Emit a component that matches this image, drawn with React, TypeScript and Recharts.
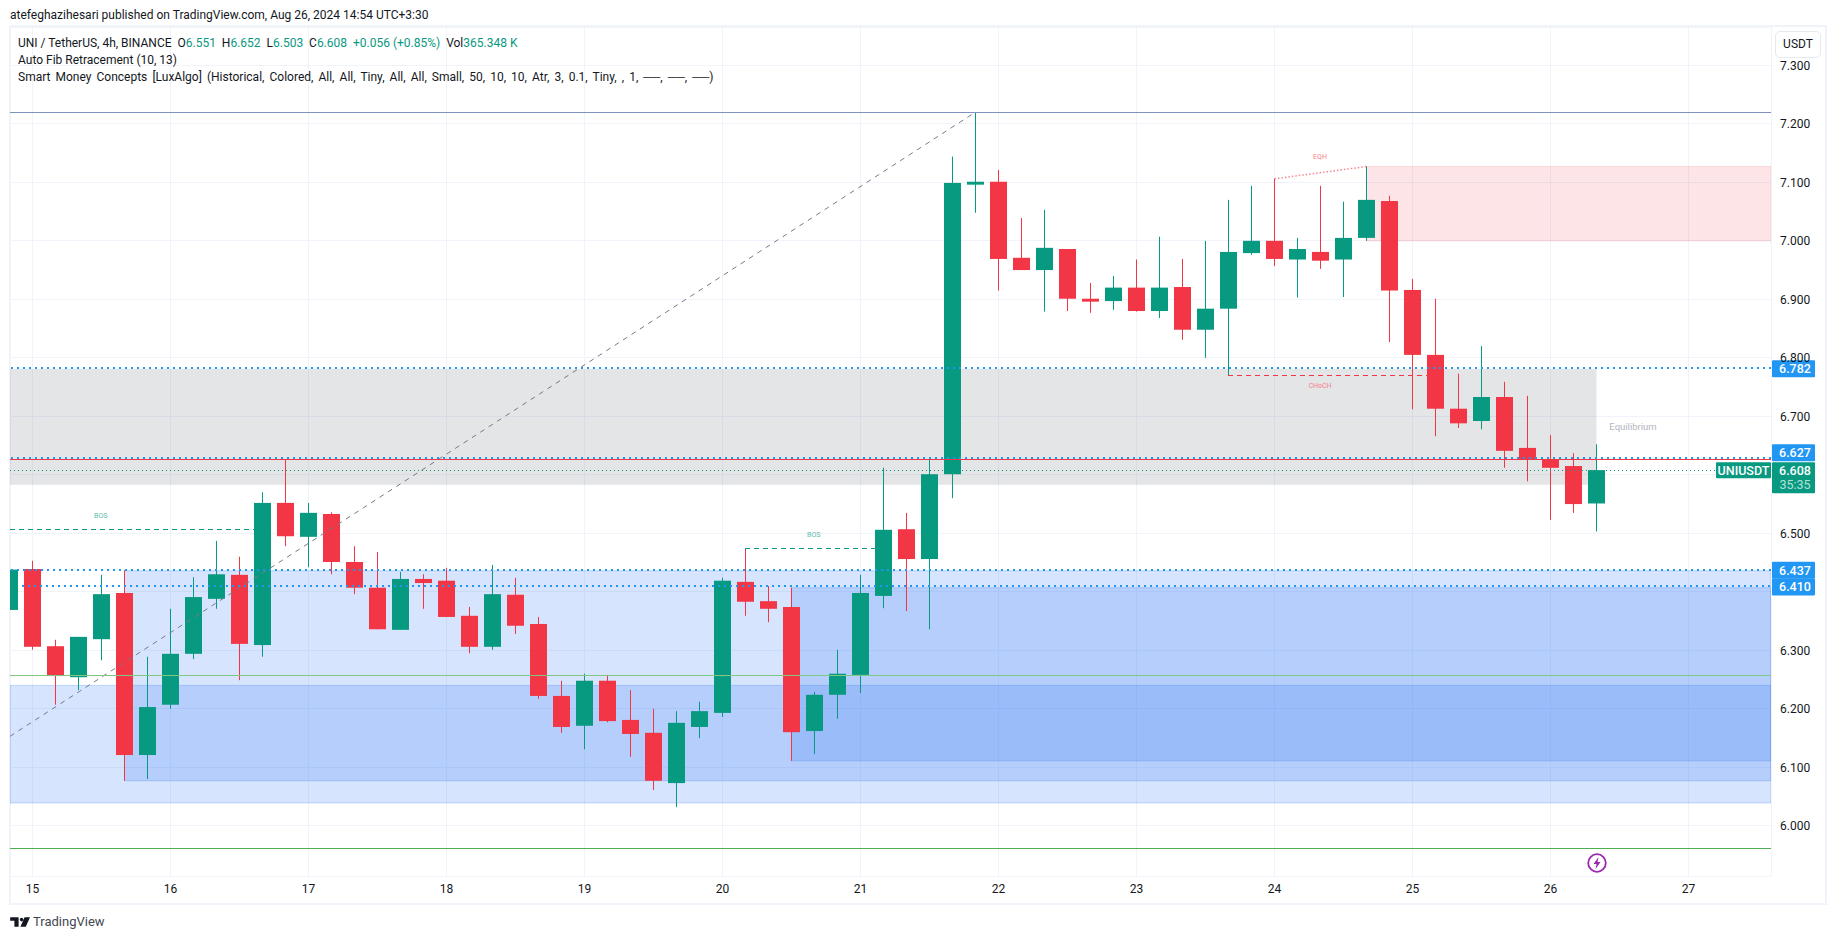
import { ComposedChart, Bar, XAxis, YAxis, CartesianGrid, ReferenceLine, ReferenceArea } from 'recharts';

// candle index runs from -1 (cut off by the left edge); day lines sit every 6 candles
const indexes = Array.from({ length: 70 }, (_, k) => k - 1);
const opens = [6.369, 6.439, 6.307, 6.254, 6.319, 6.398, 6.121, 6.207, 6.294, 6.388, 6.429, 6.309, 6.552, 6.494, 6.533, 6.451, 6.407, 6.335, 6.422, 6.419, 6.359, 6.306, 6.395, 6.345, 6.222, 6.171, 6.248, 6.181, 6.159, 6.073, 6.169, 6.193, 6.417, 6.384, 6.374, 6.162, 6.224, 6.258, 6.393, 6.507, 6.456, 6.601, 7.096, 7.101, 6.971, 6.95, 6.986, 6.901, 6.897, 6.92, 6.88, 6.921, 6.848, 6.884, 6.979, 7.0, 6.968, 6.981, 6.968, 7.005, 7.068, 6.916, 6.805, 6.713, 6.692, 6.733, 6.646, 6.626, 6.615, 6.551];
const highs = [6.44, 6.453, 6.318, 6.323, 6.429, 6.437, 6.289, 6.371, 6.425, 6.487, 6.46, 6.57, 6.627, 6.552, 6.536, 6.478, 6.468, 6.434, 6.43, 6.441, 6.374, 6.446, 6.424, 6.357, 6.248, 6.26, 6.258, 6.232, 6.2, 6.196, 6.212, 6.424, 6.475, 6.41, 6.407, 6.229, 6.301, 6.429, 6.612, 6.535, 6.627, 7.144, 7.22, 7.121, 7.039, 7.053, 6.986, 6.928, 6.94, 6.968, 7.007, 6.969, 7.0, 7.07, 7.094, 7.106, 7.005, 7.094, 7.067, 7.127, 7.077, 6.935, 6.901, 6.773, 6.82, 6.759, 6.735, 6.668, 6.637, 6.652];
const lows = [6.36, 6.301, 6.207, 6.232, 6.283, 6.077, 6.08, 6.2, 6.285, 6.371, 6.249, 6.289, 6.478, 6.442, 6.43, 6.396, 6.336, 6.335, 6.371, 6.357, 6.295, 6.301, 6.328, 6.217, 6.159, 6.131, 6.177, 6.118, 6.061, 6.032, 6.15, 6.186, 6.359, 6.348, 6.111, 6.123, 6.183, 6.227, 6.372, 6.367, 6.336, 6.56, 7.048, 6.915, 6.95, 6.879, 6.88, 6.877, 6.882, 6.879, 6.868, 6.831, 6.8, 6.77, 6.976, 6.957, 6.903, 6.952, 6.904, 7.0, 6.827, 6.712, 6.666, 6.68, 6.678, 6.612, 6.589, 6.523, 6.535, 6.503];
const closes = [6.438, 6.306, 6.256, 6.323, 6.396, 6.121, 6.203, 6.294, 6.391, 6.43, 6.311, 6.552, 6.495, 6.535, 6.451, 6.407, 6.336, 6.422, 6.415, 6.357, 6.306, 6.396, 6.342, 6.222, 6.169, 6.248, 6.179, 6.157, 6.077, 6.176, 6.196, 6.419, 6.383, 6.371, 6.16, 6.224, 6.26, 6.398, 6.506, 6.456, 6.601, 7.099, 7.101, 6.969, 6.95, 6.988, 6.901, 6.896, 6.92, 6.88, 6.92, 6.848, 6.884, 6.981, 7.0, 6.969, 6.986, 6.966, 7.005, 7.07, 6.915, 6.805, 6.713, 6.688, 6.733, 6.641, 6.626, 6.612, 6.55, 6.608];

const priceTicks = [6.0, 6.1, 6.2, 6.3, 6.4, 6.5, 6.6, 6.7, 6.8, 6.9, 7.0, 7.1, 7.2, 7.3];
const coveredPrices = [6.4, 6.6]; // these axis labels sit under price tags in the original
const dayTicks = [0, 6, 12, 18, 24, 30, 36, 42, 48, 54, 60, 66, 72];
const dayLabels = ['15', '16', '17', '18', '19', '20', '21', '22', '23', '24', '25', '26', '27'];

const xDomain = [-0.978, 75.587];
const yDomain = [5.9142, 7.3655];

const UP = '#089981';
const DOWN = '#f23645';
const BLUE = '#2196f3';
const OB_BLUE = '#3179f5';
const FONT = 'Roboto, sans-serif';

const rows = indexes.map((i, k) => ({
  i,
  range: [lows[k], highs[k]],
  o: opens[k],
  c: closes[k],
  h: highs[k],
  l: lows[k],
}));

function Candle(props: any) {
  const { x, y, width, height, payload } = props;
  const top = Math.min(y, y + height);
  const perUnit = Math.abs(height) / (payload.h - payload.l);
  const bodyTop = top + (payload.h - Math.max(payload.o, payload.c)) * perUnit;
  const bodyH = Math.max(Math.abs(payload.o - payload.c) * perUnit, 1);
  const color = payload.c >= payload.o ? UP : DOWN;
  return (
    <g>
      <rect x={x + width / 2 - 0.5} y={top} width={1} height={Math.abs(height)} fill={color} />
      <rect x={x} y={bodyTop} width={width} height={bodyH} fill={color} />
    </g>
  );
}

// price tag on the axis, shift moves it off the line when tags would overlap
function PriceTag(props: any) {
  const { viewBox, text, shift = 0 } = props;
  const left = viewBox.x + viewBox.width + 1;
  const cy = viewBox.y + shift;
  return (
    <g>
      <rect x={left} y={cy - 8.5} width={43} height={17} rx={1} fill={BLUE} />
      <text x={left + 23} y={cy + 4.5} textAnchor="middle" fontSize={12.5} fontWeight={500} fill="#fff" fontFamily={FONT}>
        {text}
      </text>
    </g>
  );
}

function LastTag(props: any) {
  const { viewBox } = props;
  const left = viewBox.x + viewBox.width + 1;
  const cy = viewBox.y;
  return (
    <g fontFamily={FONT} fontSize={12.5} fontWeight={500}>
      <rect x={left - 56} y={cy - 8} width={55} height={16} rx={1} fill={UP} />
      <text x={left - 28.5} y={cy + 4.5} textAnchor="middle" fill="#fff">UNIUSDT</text>
      <rect x={left} y={cy - 8} width={43} height={31} rx={1} fill={UP} />
      <text x={left + 23} y={cy + 4.5} textAnchor="middle" fill="#fff">6.608</text>
      <text x={left + 23} y={cy + 19} textAnchor="middle" fill="#b5e0d6" fontWeight={400}>35:35</text>
    </g>
  );
}

function Note({ text, dx, color, size = 7 }: any) {
  return (props: any) => (
    <text x={props.viewBox.x + dx} y={props.viewBox.y} textAnchor="middle" fontSize={size} fill={color} fontFamily={FONT}>
      {text}
    </text>
  );
}

const greenVal = { color: UP };

export default function App() {
  return (
    <div style={{ position: 'absolute', left: 0, top: 0, width: 1835, height: 939, background: '#fff', fontFamily: FONT, color: '#131722', overflow: 'hidden' }}>
      <div style={{ position: 'absolute', left: 9, top: 25, width: 1814, height: 876, border: '2px solid #f0f3fa' }} />
      <ComposedChart
        width={1835}
        height={939}
        data={rows}
        margin={{ top: 27, right: 0, left: 10, bottom: 0 }}
        style={{ position: 'absolute', left: 0, top: 0, fontFamily: FONT }}
      >
        <CartesianGrid stroke="#f0f3fa" strokeWidth={1} shapeRendering="crispEdges" />
        <XAxis
          dataKey="i"
          type="number"
          domain={xDomain}
          allowDataOverflow
          ticks={dayTicks}
          interval={0}
          height={63}
          axisLine={false}
          tickLine={false}
          tickMargin={2}
          tick={{ fontSize: 12, fill: '#131722' }}
          tickFormatter={(v: number) => dayLabels[dayTicks.indexOf(v)]}
        />
        <YAxis
          orientation="right"
          type="number"
          domain={yDomain}
          allowDataOverflow
          ticks={priceTicks}
          interval={0}
          width={64}
          axisLine={false}
          tickLine={false}
          tickSize={0}
          tickMargin={9}
          tick={{ fontSize: 12, fill: '#131722' }}
          tickFormatter={(v: number) => (coveredPrices.includes(v) ? '' : v.toFixed(3))}
        />

        <ReferenceArea x1={xDomain[0]} x2={68} y1={6.583} y2={6.781} fill="#787b86" fillOpacity={0.2} stroke="none" ifOverflow="hidden" />
        <ReferenceArea x1={58} x2={xDomain[1]} y1={7.0} y2={7.127} fill={DOWN} fillOpacity={0.13} stroke={DOWN} strokeOpacity={0.15} ifOverflow="hidden" />
        <ReferenceArea x1={4} x2={xDomain[1]} y1={6.077} y2={6.436} fill={OB_BLUE} fillOpacity={0.2} stroke={OB_BLUE} strokeOpacity={0.25} ifOverflow="hidden" />
        <ReferenceArea x1={xDomain[0]} x2={xDomain[1]} y1={6.039} y2={6.24} fill={OB_BLUE} fillOpacity={0.2} stroke={OB_BLUE} strokeOpacity={0.25} ifOverflow="hidden" />
        <ReferenceArea x1={33} x2={xDomain[1]} y1={6.111} y2={6.407} fill={OB_BLUE} fillOpacity={0.2} stroke={OB_BLUE} strokeOpacity={0.25} ifOverflow="hidden" />

        <ReferenceLine
          segment={[{ x: xDomain[0], y: 6.153 }, { x: 41, y: 7.22 }]}
          stroke="#787b86"
          strokeDasharray="5 5"
          ifOverflow="hidden"
        />
        <ReferenceLine y={7.22} stroke="#7f92bd" strokeWidth={1} shapeRendering="crispEdges" />
        <ReferenceLine y={6.257} stroke="#81c784" strokeWidth={1} shapeRendering="crispEdges" />
        <ReferenceLine y={5.962} stroke="#4caf50" strokeWidth={1} shapeRendering="crispEdges" />
        <ReferenceLine y={6.782} stroke={BLUE} strokeWidth={2} strokeDasharray="2 4" shapeRendering="crispEdges" label={<PriceTag text="6.782" shift={0.5} />} />
        <ReferenceLine y={6.629} stroke={BLUE} strokeWidth={2} strokeDasharray="2 4" shapeRendering="crispEdges" label={<PriceTag text="6.627" shift={-5} />} />
        <ReferenceLine y={6.627} stroke={DOWN} strokeWidth={1} shapeRendering="crispEdges" />
        <ReferenceLine y={6.437} stroke={BLUE} strokeWidth={2} strokeDasharray="2 4" shapeRendering="crispEdges" label={<PriceTag text="6.437" />} />
        <ReferenceLine
          segment={[{ x: -0.45, y: 6.41 }, { x: xDomain[1], y: 6.41 }]}
          stroke={BLUE}
          strokeWidth={2}
          strokeDasharray="2 4"
          shapeRendering="crispEdges"
          ifOverflow="hidden"
        />
        <ReferenceLine y={6.41} stroke="none" label={<PriceTag text="6.410" shift={1} />} />
        <ReferenceLine y={6.608} stroke={UP} strokeWidth={1} strokeDasharray="1 3" shapeRendering="crispEdges" label={<LastTag />} />

        <ReferenceLine segment={[{ x: xDomain[0], y: 6.507 }, { x: 10, y: 6.507 }]} stroke={UP} strokeDasharray="5 4" shapeRendering="crispEdges" ifOverflow="hidden" />
        <ReferenceLine segment={[{ x: 31, y: 6.474 }, { x: 37, y: 6.474 }]} stroke={UP} strokeDasharray="5 4" shapeRendering="crispEdges" ifOverflow="hidden" />
        <ReferenceLine segment={[{ x: 52, y: 6.77 }, { x: 61, y: 6.77 }]} stroke={DOWN} strokeDasharray="5 4" shapeRendering="crispEdges" ifOverflow="hidden" />
        <ReferenceLine segment={[{ x: 54, y: 7.106 }, { x: 58, y: 7.127 }]} stroke={DOWN} strokeWidth={1.5} strokeOpacity={0.6} strokeDasharray="1.5 2" ifOverflow="hidden" />

        <ReferenceLine y={6.526} stroke="none" label={Note({ text: 'BOS', dx: 90.7, color: '#5cbcaa' })} />
        <ReferenceLine y={6.493} stroke="none" label={Note({ text: 'BOS', dx: 803.7, color: '#5cbcaa' })} />
        <ReferenceLine y={6.748} stroke="none" label={Note({ text: 'CHoCH', dx: 1310, color: '#f6808a' })} />
        <ReferenceLine y={7.14} stroke="none" label={Note({ text: 'EQH', dx: 1310, color: '#f6808a' })} />
        <ReferenceLine y={6.677} stroke="none" label={Note({ text: 'Equilibrium', dx: 1623, color: '#b2b5be', size: 9.5 })} />

        <Bar dataKey="range" barSize={17} shape={Candle} isAnimationActive={false} />
      </ComposedChart>

      <div style={{ position: 'absolute', left: 10, top: 8, fontSize: 12, lineHeight: '14px', whiteSpace: 'nowrap' }}>
        atefeghazihesari published on TradingView.com, Aug 26, 2024 14:54 UTC+3:30
      </div>
      <div style={{ position: 'absolute', left: 18, top: 35, fontSize: 12, lineHeight: '17px', whiteSpace: 'pre' }}>
        <div>
          UNI / TetherUS, 4h, BINANCE{'  '}O<span style={greenVal}>6.551</span>{'  '}H<span style={greenVal}>6.652</span>{'  '}L<span style={greenVal}>6.503</span>{'  '}C<span style={greenVal}>6.608</span>{'  '}<span style={greenVal}>+0.056 (+0.85%)</span>{'  '}Vol<span style={greenVal}>365.348 K</span>
        </div>
        <div>Auto Fib Retracement (10, 13)</div>
        <div style={{ wordSpacing: '2.1px' }}>Smart Money Concepts [LuxAlgo] (Historical, Colored, All, All, Tiny, All, All, Small, 50, 10, 10, Atr, 3, 0.1, Tiny, , 1, ──, ──, ──)</div>
      </div>
      <div style={{ position: 'absolute', left: 1775, top: 31, width: 44, height: 25, border: '1px solid #e6e9f0', borderRadius: 5, fontSize: 12, lineHeight: '25px', textAlign: 'center', background: '#fff' }}>
        USDT
      </div>
      <svg style={{ position: 'absolute', left: 1587, top: 853 }} width={20} height={20} viewBox="0 0 20 20">
        <circle cx={10} cy={10} r={8.8} fill="#fff" stroke="#9c27b0" strokeWidth={1.8} />
        <path d="M11.5 4 L6.5 11 H9.5 L8.5 16 L13.5 9 H10.5 Z" fill="#9c27b0" />
      </svg>
      <svg style={{ position: 'absolute', left: 10, top: 916 }} width={22} height={12} viewBox="0 0 36 20">
        <path d="M0 2 H14 V18 H7 V8 H0 Z M17 18 L24 2 H33 L26 18 Z" fill="#131722" />
        <circle cx={19} cy={6} r={3} fill="#131722" />
      </svg>
      <div style={{ position: 'absolute', left: 33, top: 914, fontSize: 13, lineHeight: '16px', color: '#434651' }}>TradingView</div>
    </div>
  );
}
